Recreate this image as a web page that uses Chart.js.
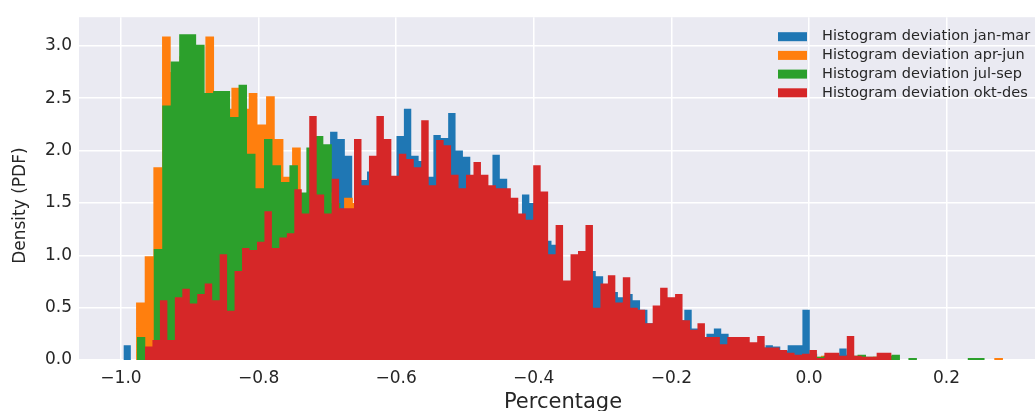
<!DOCTYPE html>
<html lang="en">
<head>
<meta charset="UTF-8">
<title>Histogram deviation</title>
<script src="https://cdn.jsdelivr.net/npm/chart.js"></script>
<style>
  html, body { margin: 0; padding: 0; background: #fff; overflow: hidden; }
  canvas { display: block; }
</style>
</head>
<body>
<!-- the axes run a little past the right edge of the window, as in the original -->
<canvas id="histChart" width="1047" height="411"></canvas>
<script>
// series, in legend order
const seriesLabels = [
    'Histogram deviation jan-mar',
    'Histogram deviation apr-jun',
    'Histogram deviation jul-sep',
    'Histogram deviation okt-des'
];
const seriesColors = ['#1f77b4', '#ff7f0e', '#2ca02c', '#d62728'];

// bin range [first edge, last edge] of each series, 100 bins each
const rangeJanMar = [-0.9964, 0.0763];
const rangeAprJun = [-0.9781, 0.2820];
const rangeJulSep = [-0.9770, 0.2555];
const rangeOktDes = [-0.9651, 0.1201];

// densities per bin
const densityJanMar = [
    0.14, 0, 0.3, 0.5, 0.7, 0.9, 1.2, 1.3, 1.4, 1.5,
    1.4, 1.5, 1.45, 1.35, 1.5, 1.4, 1.45, 1.5, 1.35, 1.5,
    1.4, 1.5, 1.45, 1.5, 1.35, 1.6, 1.7, 1.8, 2.18, 2.11,
    1.95, 1.45, 1.72, 1.8, 1.9, 1.9, 1.7, 2.14, 2.40, 1.95,
    1.9, 1.75, 2.15, 2.12, 2.36, 2.0, 1.94, 1.6, 1.7, 1.6,
    1.96, 1.73, 1.4, 1.3, 1.58, 1.5, 1.5, 1.14, 1.1, 0.7,
    0.7, 0.95, 1.0, 0.85, 0.8, 0.7, 0.65, 0.6, 0.63, 0.57,
    0.48, 0.35, 0.5, 0.55, 0.5, 0.38, 0.48, 0.3, 0.2, 0.25,
    0.30, 0.25, 0.2, 0.2, 0.16, 0.15, 0.12, 0.14, 0.13, 0.09,
    0.14, 0.14, 0.48, 0.06, 0.01, 0.04, 0.05, 0.11, 0.05, 0.02
];
const densityAprJun = [
    0.55, 0.99, 1.84, 3.09, 2.75, 2.9, 2.9, 2.5, 3.09, 2.5,
    2.4, 2.60, 2.4, 2.55, 2.25, 2.52, 2.11, 1.75, 2.03, 1.5,
    1.8, 1.9, 1.6, 1.4, 1.55, 1.5, 1.5, 1.5, 1.5, 1.45,
    1.4, 1.4, 1.35, 1.3, 1.25, 1.25, 1.2, 1.15, 1.1, 1.05,
    1.0, 1.0, 0.95, 0.9, 0.9, 0.85, 0.85, 0.8, 0.75, 0.65,
    0.7, 0.7, 0.45, 0.45, 0.55, 0.45, 0.45, 0.4, 0.3, 0.3,
    0.35, 0.4, 0.35, 0.25, 0.22, 0.2, 0.18, 0.12, 0.14, 0.15,
    0.14, 0.13, 0.1, 0.1, 0.07, 0.05, 0.04, 0.05, 0.03, 0.04,
    0.03, 0.02, 0.03, 0.03, 0.02, 0.03, 0.02, 0.02, 0, 0,
    0, 0, 0, 0, 0, 0, 0, 0, 0, 0.02
];
const densityJulSep = [
    0.22, 0.10, 1.06, 2.43, 2.85, 3.11, 3.11, 3.01, 2.55, 2.57,
    2.57, 2.32, 2.63, 1.97, 1.64, 2.11, 1.86, 1.70, 1.86, 1.60,
    2.03, 2.14, 2.06, 1.5, 1.4, 1.35, 1.5, 1.55, 1.6, 1.5,
    1.55, 1.45, 1.5, 1.35, 1.4, 1.3, 1.25, 1.3, 1.2, 1.1,
    1.2, 1.15, 1.1, 1.05, 1.0, 1.0, 0.95, 0.9, 0.9, 0.85,
    0.7, 0.7, 0.8, 0.45, 0.45, 0.6, 0.5, 0.5, 0.45, 0.34,
    0.3, 0.4, 0.45, 0.4, 0.3, 0.25, 0.2, 0.18, 0.14, 0.13,
    0.16, 0.15, 0.13, 0.15, 0.1, 0.08, 0.06, 0.04, 0.04, 0.05,
    0.03, 0.04, 0.03, 0.02, 0.04, 0.05, 0.03, 0.03, 0.04, 0.05,
    0, 0.02, 0, 0, 0, 0, 0, 0, 0.02, 0.02
];
const densityOktDes = [
    0.13, 0.19, 0.57, 0.19, 0.60, 0.68, 0.54, 0.63, 0.73, 0.57,
    1.01, 0.47, 0.85, 1.07, 1.05, 1.13, 1.42, 1.07, 1.17, 1.21,
    1.63, 1.40, 2.33, 1.58, 1.40, 1.73, 1.45, 1.45, 2.11, 1.67,
    1.95, 2.33, 2.11, 1.76, 1.97, 1.92, 1.84, 2.29, 1.67, 2.10,
    2.05, 1.77, 1.64, 1.77, 1.89, 1.77, 1.67, 1.64, 1.64, 1.55,
    1.40, 1.34, 1.86, 1.61, 1.01, 1.29, 0.76, 1.01, 1.04, 1.29,
    0.50, 0.73, 0.81, 0.55, 0.79, 0.50, 0.48, 0.35, 0.52, 0.69,
    0.60, 0.63, 0.38, 0.29, 0.35, 0.22, 0.22, 0.15, 0.22, 0.22,
    0.22, 0.17, 0.23, 0.12, 0.12, 0.095, 0.07, 0.05, 0.06, 0.095,
    0.02, 0.07, 0.07, 0.04, 0.23, 0.04, 0.03, 0.03, 0.07, 0.07
];

const xTicks = [-1.0, -0.8, -0.6, -0.4, -0.2, 0.0, 0.2];
const yTicks = [0.0, 0.5, 1.0, 1.5, 2.0, 2.5, 3.0];
const yTitle = 'Density (PDF)';

const textColor = '#262626';

// turn bin heights into step points (left edge of each bin + closing edge)
function histogram(range, heights) {
    const w = (range[1] - range[0]) / heights.length;
    const pts = heights.map((h, i) => ({ x: range[0] + i * w, y: h }));
    pts.push({ x: range[1], y: 0 });
    return pts;
}

function fmt(v) {
    return (v < -1e-9 ? '\u2212' : '') + Math.abs(v).toFixed(1);
}

const ranges = [rangeJanMar, rangeAprJun, rangeJulSep, rangeOktDes];
const densities = [densityJanMar, densityAprJun, densityJulSep, densityOktDes];

const datasets = seriesLabels.map((label, i) => ({
    label: label,
    data: histogram(ranges[i], densities[i]),
    stepped: 'before',
    fill: 'origin',
    backgroundColor: seriesColors[i],
    borderColor: 'rgba(0,0,0,0)',
    borderWidth: 0,
    pointRadius: 0,
    order: 3 - i   // okt-des drawn last, on top
}));

// grey plot background
const plotBackground = {
    id: 'plotBackground',
    beforeDraw(chart) {
        const { ctx, chartArea: a } = chart;
        ctx.save();
        ctx.fillStyle = '#eaeaf2';
        ctx.fillRect(a.left, a.top, a.right - a.left, a.bottom - a.top);
        ctx.restore();
    }
};

// legend inside the upper right corner, y label sits a bit below centre
const annotations = {
    id: 'annotations',
    afterDraw(chart) {
        const { ctx, chartArea: a } = chart;
        ctx.save();
        ctx.font = '14.5px "DejaVu Sans"';
        ctx.textBaseline = 'middle';
        ctx.textAlign = 'left';
        seriesLabels.forEach((label, i) => {
            const y = a.top + 19.5 + i * 18.7;
            ctx.fillStyle = seriesColors[i];
            ctx.fillRect(a.right - 269, y - 4.5, 29, 9);
            ctx.fillStyle = textColor;
            ctx.fillText(label, a.right - 225, y);
        });

        ctx.font = '17px "DejaVu Sans"';
        ctx.textAlign = 'center';
        ctx.fillStyle = textColor;
        ctx.translate(21, (a.top + a.bottom) / 2 + 17);
        ctx.rotate(-Math.PI / 2);
        ctx.fillText(yTitle, 0, 0);
        ctx.restore();
    }
};

new Chart(document.getElementById('histChart'), {
    type: 'line',
    data: { datasets: datasets },
    options: {
        responsive: false,
        animation: false,
        events: [],
        layout: { padding: { top: 14, right: 0, bottom: 0, left: 0 } },
        plugins: {
            legend: { display: false },
            tooltip: { enabled: false }
        },
        scales: {
            x: {
                type: 'linear',
                min: -1.061,
                max: 0.346,
                afterBuildTicks: (s) => { s.ticks = xTicks.map(v => ({ value: v })); },
                afterFit: (s) => { s.height = 51; },
                grid: { color: '#ffffff', lineWidth: 1.5, drawTicks: false },
                border: { display: false },
                ticks: {
                    padding: 8,
                    color: textColor,
                    autoSkip: false,
                    maxRotation: 0,
                    font: { family: 'DejaVu Sans', size: 17 },
                    callback: (v) => fmt(v)
                },
                title: {
                    display: true,
                    text: 'Percentage',
                    color: textColor,
                    font: { family: 'DejaVu Sans', size: 21, lineHeight: 0.8 },
                    padding: { top: 0, bottom: 0 }
                }
            },
            y: {
                min: 0,
                max: 3.274,
                afterBuildTicks: (s) => { s.ticks = yTicks.map(v => ({ value: v })); },
                afterFit: (s) => { s.width = 79; },
                grid: { color: '#ffffff', lineWidth: 1.5, drawTicks: false },
                border: { display: false },
                ticks: {
                    padding: 7,
                    color: textColor,
                    font: { family: 'DejaVu Sans', size: 17 },
                    callback: (v) => fmt(v)
                }
            }
        }
    },
    plugins: [plotBackground, annotations]
});
</script>
</body>
</html>
